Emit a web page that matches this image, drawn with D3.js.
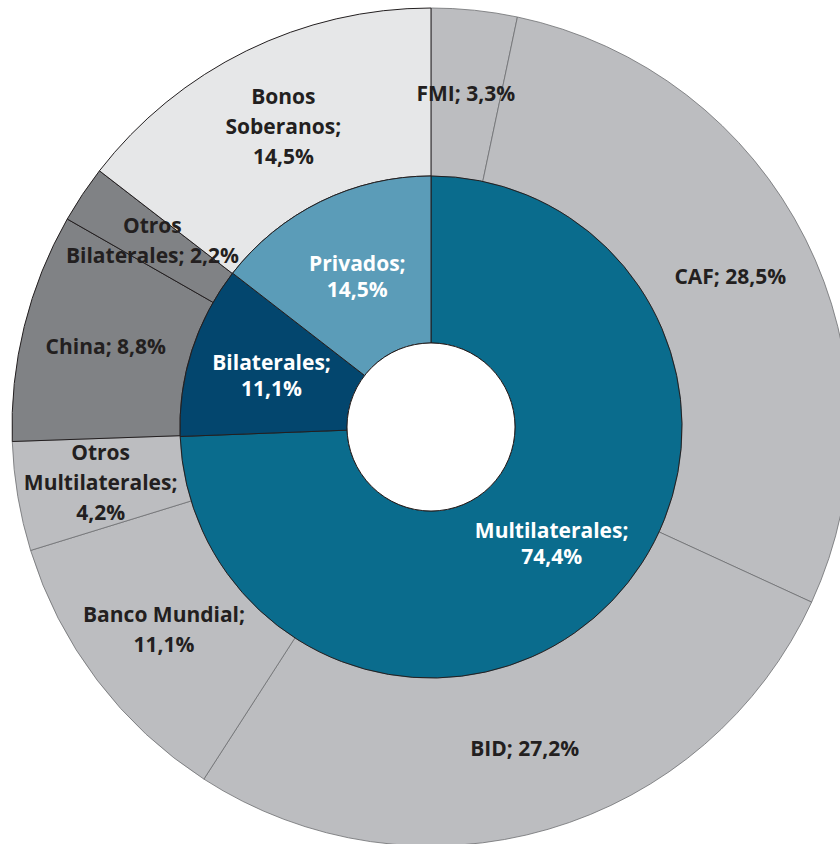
<!DOCTYPE html>
<html>
<head>
<meta charset="utf-8">
<script src="https://cdn.jsdelivr.net/npm/d3@7"></script>
<style>
  body { margin: 0; background: #fff; }
  text { font-family: "Open Sans", Lato, sans-serif; font-weight: bold; }
</style>
</head>
<body>
<div id="chart"></div>
<script>
(function () {

  // Inner ring: type of creditor
  const innerNames = ["Multilaterales", "Bilaterales", "Privados"]
  const innerValues = [74.4, 11.1, 14.5]
  const innerColors = ["#0a6c8d", "#03466e", "#5b9cb8"]

  // Outer ring: creditor detail
  const outerNames = ["FMI", "CAF", "BID", "Banco Mundial", "Otros\nMultilaterales",
                      "China", "Otros\nBilaterales", "Bonos\nSoberanos"]
  const outerValues = [3.3, 28.5, 27.2, 11.1, 4.2, 8.8, 2.2, 14.5]
  const outerGroup = ["Multilaterales", "Multilaterales", "Multilaterales", "Multilaterales",
                      "Multilaterales", "Bilaterales", "Bilaterales", "Privados"]
  // whether the percentage goes on its own line
  const outerValueBreak = [false, false, false, true, true, false, false, true]

  const groupFill = { Multilaterales: "#bcbdc0", Bilaterales: "#808285", Privados: "#e6e7e8" }

  const width = 840
  const height = 844
  const cx = 431, cy = 427
  const rHole = 84, rMid = 251, rOuter = 419

  const fmt = v => d3.format(".1f")(v).replace(".", ",") + "%"

  const svg = d3.select("#chart").append("svg")
      .attr("width", width)
      .attr("height", height)
    .append("g")
      .attr("transform", "translate(" + cx + "," + cy + ")")

  const pie = d3.pie().sort(null).value(d => d.value)

  const outerData = pie(outerNames.map((n, i) => ({
    name: n, value: outerValues[i], group: outerGroup[i], brk: outerValueBreak[i]
  })))
  const innerData = pie(innerNames.map((n, i) => ({
    name: n, value: innerValues[i], color: innerColors[i]
  })))

  const outerArc = d3.arc().innerRadius(rMid).outerRadius(rOuter)
  const innerArc = d3.arc().innerRadius(rHole).outerRadius(rMid)

  // light multilateral slices first (thin grey edges), darker ones on top
  const order = d => d.data.group === "Multilaterales" ? 0 : 1
  svg.selectAll("path.outer")
    .data(outerData.slice().sort((a, b) => order(a) - order(b)))
    .join("path")
      .attr("class", "outer")
      .attr("d", outerArc)
      .attr("fill", d => groupFill[d.data.group])
      .attr("stroke", d => d.data.group === "Multilaterales" ? "#6d6e71" : "#231f20")
      .attr("stroke-width", d => d.data.group === "Multilaterales" ? 0.8 : 1)

  svg.selectAll("path.inner")
    .data(innerData)
    .join("path")
      .attr("class", "inner")
      .attr("d", innerArc)
      .attr("fill", d => d.data.color)
      .attr("stroke", "#231f20")
      .attr("stroke-width", 1)

  svg.append("circle")
    .attr("r", rHole)
    .attr("fill", "#fff")
    .attr("stroke", "#231f20")
    .attr("stroke-width", 1)

  function drawLabels(data, arc, lineH, color, linesOf) {
    svg.selectAll(null)
      .data(data)
      .join("text")
        .attr("text-anchor", "middle")
        .attr("font-size", 21)
        .attr("fill", color)
        .each(function (d) {
          const lines = linesOf(d)
          const [x, y] = arc.centroid(d)
          const y0 = y - (lines.length - 1) * lineH / 2
          d3.select(this).selectAll("tspan")
            .data(lines)
            .join("tspan")
              .attr("x", x)
              .attr("y", (l, i) => y0 + i * lineH)
              .attr("dy", "0.35em")
              .text(l => l)
        })
  }

  drawLabels(outerData, outerArc, 30, "#231f20", d => {
    const parts = d.data.name.split("\n")
    if (d.data.brk) { parts[parts.length - 1] += ";"; parts.push(fmt(d.data.value)) }
    else parts[parts.length - 1] += "; " + fmt(d.data.value)
    return parts
  })

  drawLabels(innerData, innerArc, 26, "#fff", d => [d.data.name + ";", fmt(d.data.value)])

})();
</script>
</body>
</html>
